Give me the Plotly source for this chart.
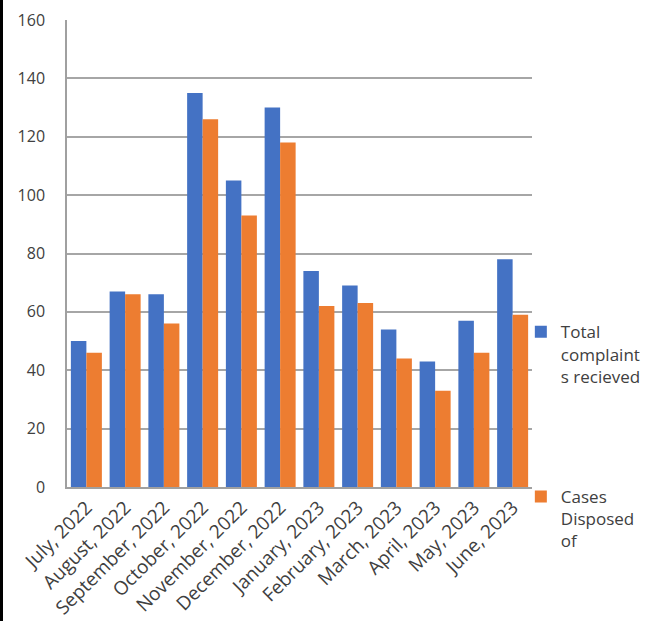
import plotly.graph_objects as go

months = ["July, 2022", "August, 2022", "September, 2022", "October, 2022",
          "November, 2022", "December, 2022", "January, 2023", "February, 2023",
          "March, 2023", "April, 2023", "May, 2023", "June, 2023"]
total_received = [50, 67, 66, 135, 105, 130, 74, 69, 54, 43, 57, 78]
cases_disposed = [46, 66, 56, 126, 93, 118, 62, 63, 44, 33, 46, 59]
y_ticks = [0, 20, 40, 60, 80, 100, 120, 140, 160]

FONT = "Open Sans"
TXT = "#404040"

fig = go.Figure()
fig.add_trace(go.Bar(x=months, y=total_received, name="Total<br>complaint<br>s recieved",
                     marker=dict(color="#4472C4", line=dict(width=0)), legend="legend",
                     showlegend=True))
fig.add_trace(go.Bar(x=months, y=cases_disposed, name="Cases<br>Disposed<br>of",
                     marker=dict(color="#ED7D31", line=dict(width=0)), legend="legend2",
                     showlegend=True))

fig.update_layout(
    width=664, height=621,
    margin=dict(l=67, r=132, t=20, b=134, autoexpand=False),
    paper_bgcolor="white", plot_bgcolor="white",
    showlegend=True,
    barmode="group", bargap=0.2, bargroupgap=0,
    font=dict(family=FONT, color=TXT),
    legend=dict(x=0.976, xanchor="left", y=0.37, yanchor="top", valign="top",
                font=dict(size=17, color=TXT, family=FONT), bgcolor="rgba(0,0,0,0)",
                itemwidth=30),
    legend2=dict(x=0.976, xanchor="left", y=0.017, yanchor="top", valign="top",
                 font=dict(size=17, color=TXT, family=FONT), bgcolor="rgba(0,0,0,0)",
                 itemwidth=30),
    xaxis=dict(tickangle=-45, tickfont=dict(size=19, color=TXT, family=FONT),
               showline=True, linecolor="#A0A0A0", linewidth=2, ticks="",
               showgrid=False, automargin=False),
    yaxis=dict(range=[0, 160], tickvals=y_ticks, tickfont=dict(size=16, color=TXT, family=FONT),
               showgrid=True, gridcolor="#A6A6A6", gridwidth=1.5,
               showline=True, linecolor="#A0A0A0", linewidth=1.5, ticks="",
               ticklabelstandoff=17, zeroline=False, automargin=False),
    shapes=[dict(type="rect", xref="paper", yref="paper",
                 x0=-67/465, x1=-64/465, y0=-134/467, y1=20/467 + 1,
                 fillcolor="black", line=dict(width=0))],
)

fig.write_html("out.html", config={"displayModeBar": False},
               post_script="document.body.style.margin='0';document.body.style.padding='0';")
